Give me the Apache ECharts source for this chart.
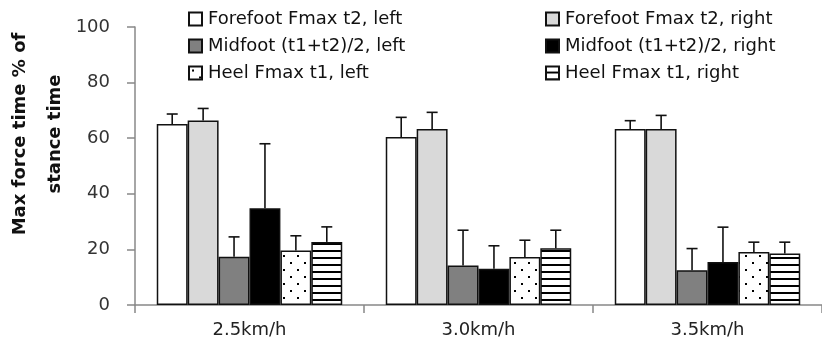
<!DOCTYPE html>
<html><head><meta charset="utf-8">
<script src="https://cdn.jsdelivr.net/npm/echarts@6/dist/echarts.min.js"></script>
<style>html,body{margin:0;padding:0;background:#fff}#c{width:822px;height:357px}</style>
</head><body><div id="c"></div>
<script>
const categories = ['2.5km/h', '3.0km/h', '3.5km/h'];
const seriesNames = ['Forefoot Fmax t2, left', 'Forefoot Fmax t2, right', 'Midfoot (t1+t2)/2, left', 'Midfoot (t1+t2)/2, right', 'Heel Fmax t1, left', 'Heel Fmax t1, right'];
const forefootLeft = [65.1, 60.4, 63.3];
const forefootRight = [66.4, 63.3, 63.3];
const midfootLeft = [17.4, 14.2, 12.5];
const midfootRight = [34.8, 13.0, 15.5];
const heelLeft = [19.6, 17.3, 19.1];
const heelRight = [22.7, 20.4, 18.5];
const forefootLeftErr = [3.6, 7.1, 3.0];
const forefootRightErr = [4.3, 6.0, 4.9];
const midfootLeftErr = [7.1, 12.7, 7.8];
const midfootRightErr = [23.2, 8.3, 12.5];
const heelLeftErr = [5.3, 6.0, 3.5];
const heelRightErr = [5.4, 6.5, 4.1];
const yTicks = [0, 20, 40, 60, 80, 100];

const values = [forefootLeft, forefootRight, midfootLeft, midfootRight, heelLeft, heelRight];
const errors = [forefootLeftErr, forefootRightErr, midfootLeftErr, midfootRightErr, heelLeftErr, heelRightErr];

function dotPattern() {
  const c = document.createElement('canvas'); c.width = 14; c.height = 14;
  const g = c.getContext('2d'); g.fillStyle = '#fff'; g.fillRect(0, 0, 14, 14);
  g.fillStyle = '#000';
  g.fillRect(3, 3, 2, 2); g.fillRect(10, 10, 2, 2);
  return c;
}
function stripePattern() {
  const c = document.createElement('canvas'); c.width = 8; c.height = 7;
  const g = c.getContext('2d'); g.fillStyle = '#fff'; g.fillRect(0, 0, 8, 7);
  g.fillStyle = '#000'; g.fillRect(0, 5, 8, 2);
  return c;
}
const fills = ['#ffffff', '#d9d9d9', '#808080', '#000000',
  { image: dotPattern(), repeat: 'repeat' }, { image: stripePattern(), repeat: 'repeat' }];

const CAT_GAP = 0.19;
const font = '"DejaVu Sans", sans-serif';

const series = values.map((v, i) => ({
  name: seriesNames[i], type: 'bar', data: v,
  barGap: '0%', barCategoryGap: (CAT_GAP * 100) + '%',
  itemStyle: { color: fills[i], borderColor: '#111', borderWidth: 1.5 },
  emphasis: { disabled: true }
}));

const errData = [];
values.forEach((v, i) => v.forEach((val, j) => errData.push([j, i, val, errors[i][j]])));
series.push({
  type: 'custom', z: 10, silent: true,
  data: errData, encode: { x: 0, y: 2 },
  renderItem: function (params, api) {
    const cat = api.value(0), idx = api.value(1), val = api.value(2), err = api.value(3);
    const band = api.size([1, 0])[0];
    const bw = band * (1 - CAT_GAP) / 6;
    const p0 = api.coord([cat, val]);
    const p1 = api.coord([cat, val + err]);
    const x = p0[0] + (idx - 2.5) * bw;
    const st = { stroke: '#111', lineWidth: 1.6 };
    return { type: 'group', children: [
      { type: 'line', shape: { x1: x, y1: p0[1], x2: x, y2: p1[1] }, style: st },
      { type: 'line', shape: { x1: x - 5.5, y1: p1[1], x2: x + 5.5, y2: p1[1] }, style: st }
    ]};
  }
});

const legendCommon = {
  orient: 'vertical', itemWidth: 13, itemHeight: 13, itemGap: 9, icon: 'rect',
  textStyle: { fontFamily: font, fontSize: 18, color: '#111', padding: [0, 0, 0, 1] },
  selectedMode: false, padding: 0
};

const chart = echarts.init(document.getElementById('c'));
chart.setOption({
  animation: false,
  grid: { left: 135, right: 0, top: 27, bottom: 52 },
  legend: [
    Object.assign({}, legendCommon, { left: 188, top: 10, data: seriesNames.filter((_, i) => i % 2 === 0) }),
    Object.assign({}, legendCommon, { left: 545, top: 10, data: seriesNames.filter((_, i) => i % 2 === 1) })
  ],
  xAxis: {
    type: 'category', data: categories,
    axisLine: { lineStyle: { color: '#888', width: 1.5 } },
    axisTick: { show: true, length: 8, lineStyle: { color: '#888', width: 1.5 } },
    axisLabel: { fontFamily: font, fontSize: 18, color: '#222', margin: 16 }
  },
  yAxis: {
    type: 'value', min: yTicks[0], max: yTicks[yTicks.length - 1], interval: 20,
    splitLine: { show: false },
    axisLine: { show: true, lineStyle: { color: '#888', width: 1.5 } },
    axisTick: { show: true, length: 8, lineStyle: { color: '#888', width: 1.5 } },
    axisLabel: { fontFamily: font, fontSize: 18, color: '#333', margin: 25 }
  },
  graphic: [
    { type: 'text', x: 20, y: 134, rotation: Math.PI / 2,
      style: { text: 'Max force time % of', font: 'bold 18px ' + font, fill: '#111', textAlign: 'center', textVerticalAlign: 'middle' } },
    { type: 'text', x: 55, y: 134, rotation: Math.PI / 2,
      style: { text: 'stance time', font: 'bold 18px ' + font, fill: '#111', textAlign: 'center', textVerticalAlign: 'middle' } }
  ],
  series: series
});
</script></body></html>
